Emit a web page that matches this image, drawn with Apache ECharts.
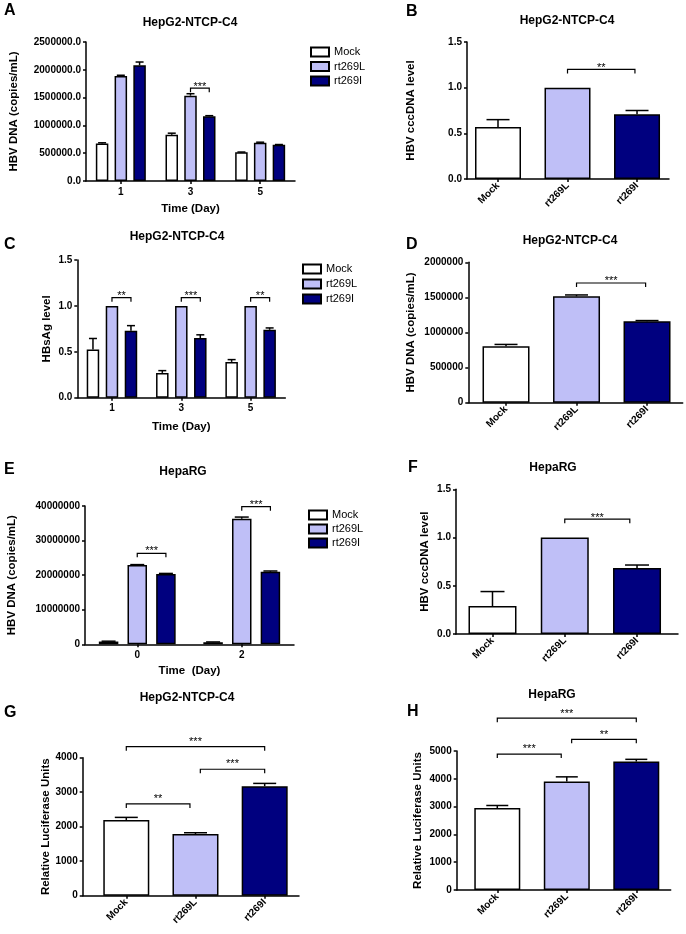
<!DOCTYPE html>
<html><head><meta charset="utf-8">
<script src="https://cdn.jsdelivr.net/npm/echarts@6/dist/echarts.min.js"></script>
<style>html,body{margin:0;padding:0;background:#fff}#c{width:686px;height:934px}</style>
</head><body><div id="c"></div>
<script>
// ---------- DATA ----------
const seriesNames = ['Mock', 'rt269L', 'rt269I'];
const barCats = ['Mock', 'rt269L', 'rt269I'];

// A: HepG2-NTCP-C4, HBV DNA over time
const aDays = ['1', '3', '5'];
const aMock = [675000, 830000, 515000];
const aMockErr = [12000, 30000, 6000];
const aL = [1890000, 1535000, 690000];
const aLErr = [12000, 35000, 8000];
const aI = [2080000, 1165000, 650000];
const aIErr = [60000, 10000, 6000];
const aTicks = [0, 500000, 1000000, 1500000, 2000000, 2500000];
const aSig = [[1, 1, 2, 1670000, '***']]; // [category, series a, series b, y, label]

// B: HepG2-NTCP-C4 cccDNA
const bVals = [0.57, 1.0, 0.71];
const bErr = [0.08, 0, 0.04];
const bTicks = [0, 0.5, 1.0, 1.5];
const bSig = [[1.0, 1.97, 1.2, '**']]; // [x a, x b, y, label]

// C: HBsAg
const cDays = ['1', '3', '5'];
const cMock = [0.525, 0.27, 0.39];
const cMockErr = [0.12, 0.025, 0.025];
const cL = [1.0, 1.0, 1.0];
const cLErr = [0, 0, 0];
const cI = [0.73, 0.65, 0.74];
const cIErr = [0.055, 0.035, 0.02];
const cTicks = [0, 0.5, 1.0, 1.5];
const cSig = [[0, 1, 2, 1.09, '**'], [1, 1, 2, 1.09, '***'], [2, 1, 2, 1.09, '**']];

// D: HepG2-NTCP-C4 HBV DNA
const dVals = [805000, 1515000, 1160000];
const dErr = [25000, 20000, 10000];
const dTicks = [0, 500000, 1000000, 1500000, 2000000];
const dSig = [[1.0, 1.98, 1705000, '***']];

// E: HepaRG HBV DNA over time
const eDays = ['0', '2'];
const eMock = [800000, 600000];
const eMockErr = [100000, 80000];
const eL = [22900000, 36300000];
const eLErr = [150000, 500000];
const eI = [20300000, 21000000];
const eIErr = [200000, 200000];
const eTicks = [0, 10000000, 20000000, 30000000, 40000000];
const eSig = [[0, 1, 2, 26300000, '***'], [1, 1, 2, 39800000, '***']];

// F: HepaRG cccDNA
const fVals = [0.29, 1.0, 0.685];
const fErr = [0.15, 0, 0.03];
const fTicks = [0, 0.5, 1.0, 1.5];
const fSig = [[1.0, 1.9, 1.19, '***']];

// G: HepG2-NTCP-C4 luciferase
const gVals = [2195, 1785, 3175];
const gErr = [75, 40, 80];
const gTicks = [0, 1000, 2000, 3000, 4000];
const gSig = [[0, 2, 4320, '***'], [1.07, 2, 3665, '***'], [0, 0.92, 2660, '**']];

// H: HepaRG luciferase
const hVals = [2950, 3900, 4620];
const hErr = [90, 170, 80];
const hTicks = [0, 1000, 2000, 3000, 4000, 5000];
const hSig = [[0, 2, 6180, '***'], [1.07, 2, 5420, '**'], [0, 0.92, 4890, '***']];

// ---------- STYLE ----------
const FONT = '"Liberation Sans", Arial, Helvetica, sans-serif';
const FILL = ['#ffffff', '#bfbff7', '#00007f'];
const LW = 1.5;

const grids = [], xAxes = [], yAxes = [], series = [], legends = [], graphics = [];

function yAxisCfg(gi, ticks, fmt, name, gap) {
  return {
    type: 'value', gridIndex: gi, min: ticks[0], max: ticks[ticks.length - 1], interval: ticks[1] - ticks[0],
    axisLine: { show: true, onZero: false, lineStyle: { color: '#000', width: LW } },
    axisTick: { show: true, length: 3, lineStyle: { color: '#000', width: LW } },
    splitLine: { show: false },
    axisLabel: { color: '#000', fontWeight: 'bold', fontSize: 10, fontFamily: FONT, margin: 5, formatter: fmt },
    name: name, nameLocation: 'middle', nameGap: gap,
    nameTextStyle: { color: '#000', fontWeight: 'bold', fontSize: 11.5, fontFamily: FONT }
  };
}

function errRender(off, cap) {
  return function (params, api) {
    const x = api.value(0), v = api.value(1), e = api.value(2);
    if (!e) return { type: 'group', children: [] };
    const p0 = api.coord([x, v]);
    const p1 = api.coord([x, v + e]);
    const cx = p0[0] + off;
    return {
      type: 'group', children: [
        { type: 'line', shape: { x1: cx, y1: p0[1], x2: cx, y2: p1[1] }, style: { stroke: '#000', lineWidth: LW } },
        { type: 'line', shape: { x1: cx - cap / 2, y1: p1[1], x2: cx + cap / 2, y2: p1[1] }, style: { stroke: '#000', lineWidth: LW } }
      ]
    };
  };
}

function sigRender(labels, lift) {
  return function (params, api) {
    const a = api.coord([api.value(0), api.value(2)]);
    const b = api.coord([api.value(1), api.value(2)]);
    const x1 = a[0] + api.value(3), x2 = b[0] + api.value(4), y = a[1];
    return {
      type: 'group', children: [
        { type: 'polyline', shape: { points: [[x1, y + 4], [x1, y], [x2, y], [x2, y + 4]] }, style: { stroke: '#000', lineWidth: 1.2, fill: null } },
        { type: 'text', x: (x1 + x2) / 2, y: y - lift + 2.8, style: { text: labels[params.dataIndex], align: 'center', verticalAlign: 'middle', font: '11px ' + FONT, fill: '#000' } }
      ]
    };
  };
}

function grouped(p) {
  const gi = grids.length;
  grids.push({ left: p.rect[0], top: p.rect[1], width: p.rect[2], height: p.rect[3] });
  xAxes.push({
    type: 'category', gridIndex: gi, data: p.cats,
    axisLine: { show: true, lineStyle: { color: '#000', width: LW } },
    axisTick: { show: true, alignWithLabel: true, length: 3, lineStyle: { color: '#000', width: LW } },
    axisLabel: { color: '#000', fontWeight: 'bold', fontSize: 10, fontFamily: FONT, margin: 6 },
    name: p.xName, nameLocation: 'middle', nameGap: p.xGap,
    nameTextStyle: { color: '#000', fontWeight: 'bold', fontSize: 11.5, fontFamily: FONT }
  });
  yAxes.push(yAxisCfg(gi, p.ticks, p.fmt, p.yName, p.yGap));
  const step = p.barW * (1 + p.barGap / 100);
  p.vals.forEach((vals, s) => {
    series.push({
      type: 'bar', name: seriesNames[s], xAxisIndex: gi, yAxisIndex: gi, data: vals,
      barWidth: p.barW, barGap: p.barGap + '%', silent: true,
      itemStyle: { color: FILL[s], borderColor: '#000', borderWidth: LW }
    });
    series.push({
      type: 'custom', xAxisIndex: gi, yAxisIndex: gi, silent: true, z: 5,
      data: vals.map((v, i) => [i, v, p.errs[s][i]]),
      renderItem: errRender((s - 1) * step, p.cap)
    });
  });
  series.push({
    type: 'custom', xAxisIndex: gi, yAxisIndex: gi, silent: true, z: 5, clip: false,
    data: p.sig.map(d => [d[0], d[0], d[3], (d[1] - 1) * step, (d[2] - 1) * step]),
    renderItem: sigRender(p.sig.map(d => d[4]), p.lift)
  });
  legends.push({
    orient: 'vertical', left: p.legend[0], top: p.legend[1], padding: 0, data: seriesNames, icon: 'rect',
    itemWidth: 18, itemHeight: 9, itemGap: p.legend[2], selectedMode: false,
    textStyle: { color: '#000', fontSize: 11, fontFamily: FONT, lineHeight: 12 }
  });
}

function single(p) {
  const gi = grids.length;
  grids.push({ left: p.rect[0], top: p.rect[1], width: p.rect[2], height: p.rect[3] });
  const idx = barCats.map((c, i) => i);
  xAxes.push({
    type: 'value', gridIndex: gi, min: p.xr[0], max: p.xr[1],
    axisLine: { show: true, onZero: false, lineStyle: { color: '#000', width: LW } },
    axisTick: { show: true, customValues: idx, length: 3, lineStyle: { color: '#000', width: LW } },
    axisLabel: {
      customValues: idx, formatter: v => barCats[Math.round(v)], rotate: 45,
      color: '#000', fontWeight: 'bold', fontSize: 10, fontFamily: FONT, margin: 5
    },
    splitLine: { show: false }
  });
  yAxes.push(yAxisCfg(gi, p.ticks, p.fmt, p.yName, p.yGap));
  series.push({
    type: 'bar', name: 'bars' + gi, xAxisIndex: gi, yAxisIndex: gi, barWidth: p.barW, silent: true,
    data: p.vals.map((v, i) => ({ value: [i, v], itemStyle: { color: FILL[i] } })),
    itemStyle: { borderColor: '#000', borderWidth: LW }
  });
  series.push({
    type: 'custom', xAxisIndex: gi, yAxisIndex: gi, silent: true, z: 5,
    data: p.vals.map((v, i) => [i, v, p.errs[i]]),
    renderItem: errRender(0, p.cap)
  });
  series.push({
    type: 'custom', xAxisIndex: gi, yAxisIndex: gi, silent: true, z: 5, clip: false,
    data: p.sig.map(d => [d[0], d[1], d[2], 0, 0]),
    renderItem: sigRender(p.sig.map(d => d[3]), p.lift)
  });
}

const f1 = v => v.toFixed(1);
const f0 = v => String(v);

grouped({ rect: [86, 42, 209, 139], cats: aDays, vals: [aMock, aL, aI], errs: [aMockErr, aLErr, aIErr],
  ticks: aTicks, fmt: f1, yName: 'HBV DNA (copies/mL)', yGap: 66, xName: 'Time (Day)', xGap: 22,
  barW: 12.5, barGap: 50, cap: 8, sig: aSig, lift: 4, legend: [310, 46, 2.5] });
single({ rect: [467, 42, 202, 137], xr: [-0.446, 2.46], vals: bVals, errs: bErr, ticks: bTicks, fmt: f1,
  yName: 'HBV cccDNA level', yGap: 50, barW: 46, cap: 23, sig: bSig, lift: 4.5 });
grouped({ rect: [77.3, 260, 208, 137.7], cats: cDays, vals: [cMock, cL, cI], errs: [cMockErr, cLErr, cIErr],
  ticks: cTicks, fmt: f1, yName: 'HBsAg level', yGap: 24, xName: 'Time (Day)', xGap: 23,
  barW: 12.5, barGap: 52, cap: 8, sig: cSig, lift: 4.6, legend: [302, 263, 3] });
single({ rect: [468.3, 262.3, 214.4, 140.4], xr: [-0.535, 2.506], vals: dVals, errs: dErr, ticks: dTicks, fmt: f0,
  yName: 'HBV DNA (copies/mL)', yGap: 51, barW: 47, cap: 23, sig: dSig, lift: 5 });
grouped({ rect: [85, 506, 209, 138.3], cats: eDays, vals: [eMock, eL, eI], errs: [eMockErr, eLErr, eIErr],
  ticks: eTicks, fmt: f0, yName: 'HBV DNA (copies/mL)', yGap: 67, xName: 'Time  (Day)', xGap: 21,
  barW: 19.5, barGap: 47, cap: 14, sig: eSig, lift: 5, legend: [308, 509, 2] });
single({ rect: [456, 489.3, 222, 144.7], xr: [-0.505, 2.567], vals: fVals, errs: fErr, ticks: fTicks, fmt: f1,
  yName: 'HBV cccDNA level', yGap: 25, barW: 48, cap: 24, sig: fSig, lift: 4.5 });
single({ rect: [82.7, 757.7, 216.3, 138], xr: [-0.63, 2.496], vals: gVals, errs: gErr, ticks: gTicks, fmt: f0,
  yName: 'Relative Luciferase Units', yGap: 29.5, barW: 46, cap: 23, sig: gSig, lift: 7.8 });
single({ rect: [456.7, 751, 214, 139], xr: [-0.584, 2.495], vals: hVals, errs: hErr, ticks: hTicks, fmt: f0,
  yName: 'Relative Luciferase Units', yGap: 33, barW: 46, cap: 22, sig: hSig, lift: 7.5 });

// titles and panel letters
const titles = [
  ['HepG2-NTCP-C4', 190, 23], ['HepG2-NTCP-C4', 567, 21], ['HepG2-NTCP-C4', 177, 237], ['HepG2-NTCP-C4', 570, 241],
  ['HepaRG', 183, 472], ['HepaRG', 553, 468], ['HepG2-NTCP-C4', 187, 698], ['HepaRG', 552, 695]
];
titles.forEach(t => graphics.push({ type: 'text', x: t[1], y: t[2], silent: true,
  style: { text: t[0], align: 'center', verticalAlign: 'middle', font: 'bold 12px ' + FONT, fill: '#000' } }));
const letters = [['A', 4, 11], ['B', 406, 12], ['C', 4, 245], ['D', 406, 245], ['E', 4, 470], ['F', 408, 468], ['G', 4, 713], ['H', 407, 712]];
letters.forEach(t => graphics.push({ type: 'text', x: t[1], y: t[2], silent: true,
  style: { text: t[0], align: 'left', verticalAlign: 'middle', font: 'bold 16px ' + FONT, fill: '#000' } }));

const chart = echarts.init(document.getElementById('c'), null, { renderer: 'canvas' });
chart.setOption({
  backgroundColor: '#fff',
  animation: false,
  grid: grids, xAxis: xAxes, yAxis: yAxes, series: series, legend: legends, graphic: graphics
});
</script></body></html>
